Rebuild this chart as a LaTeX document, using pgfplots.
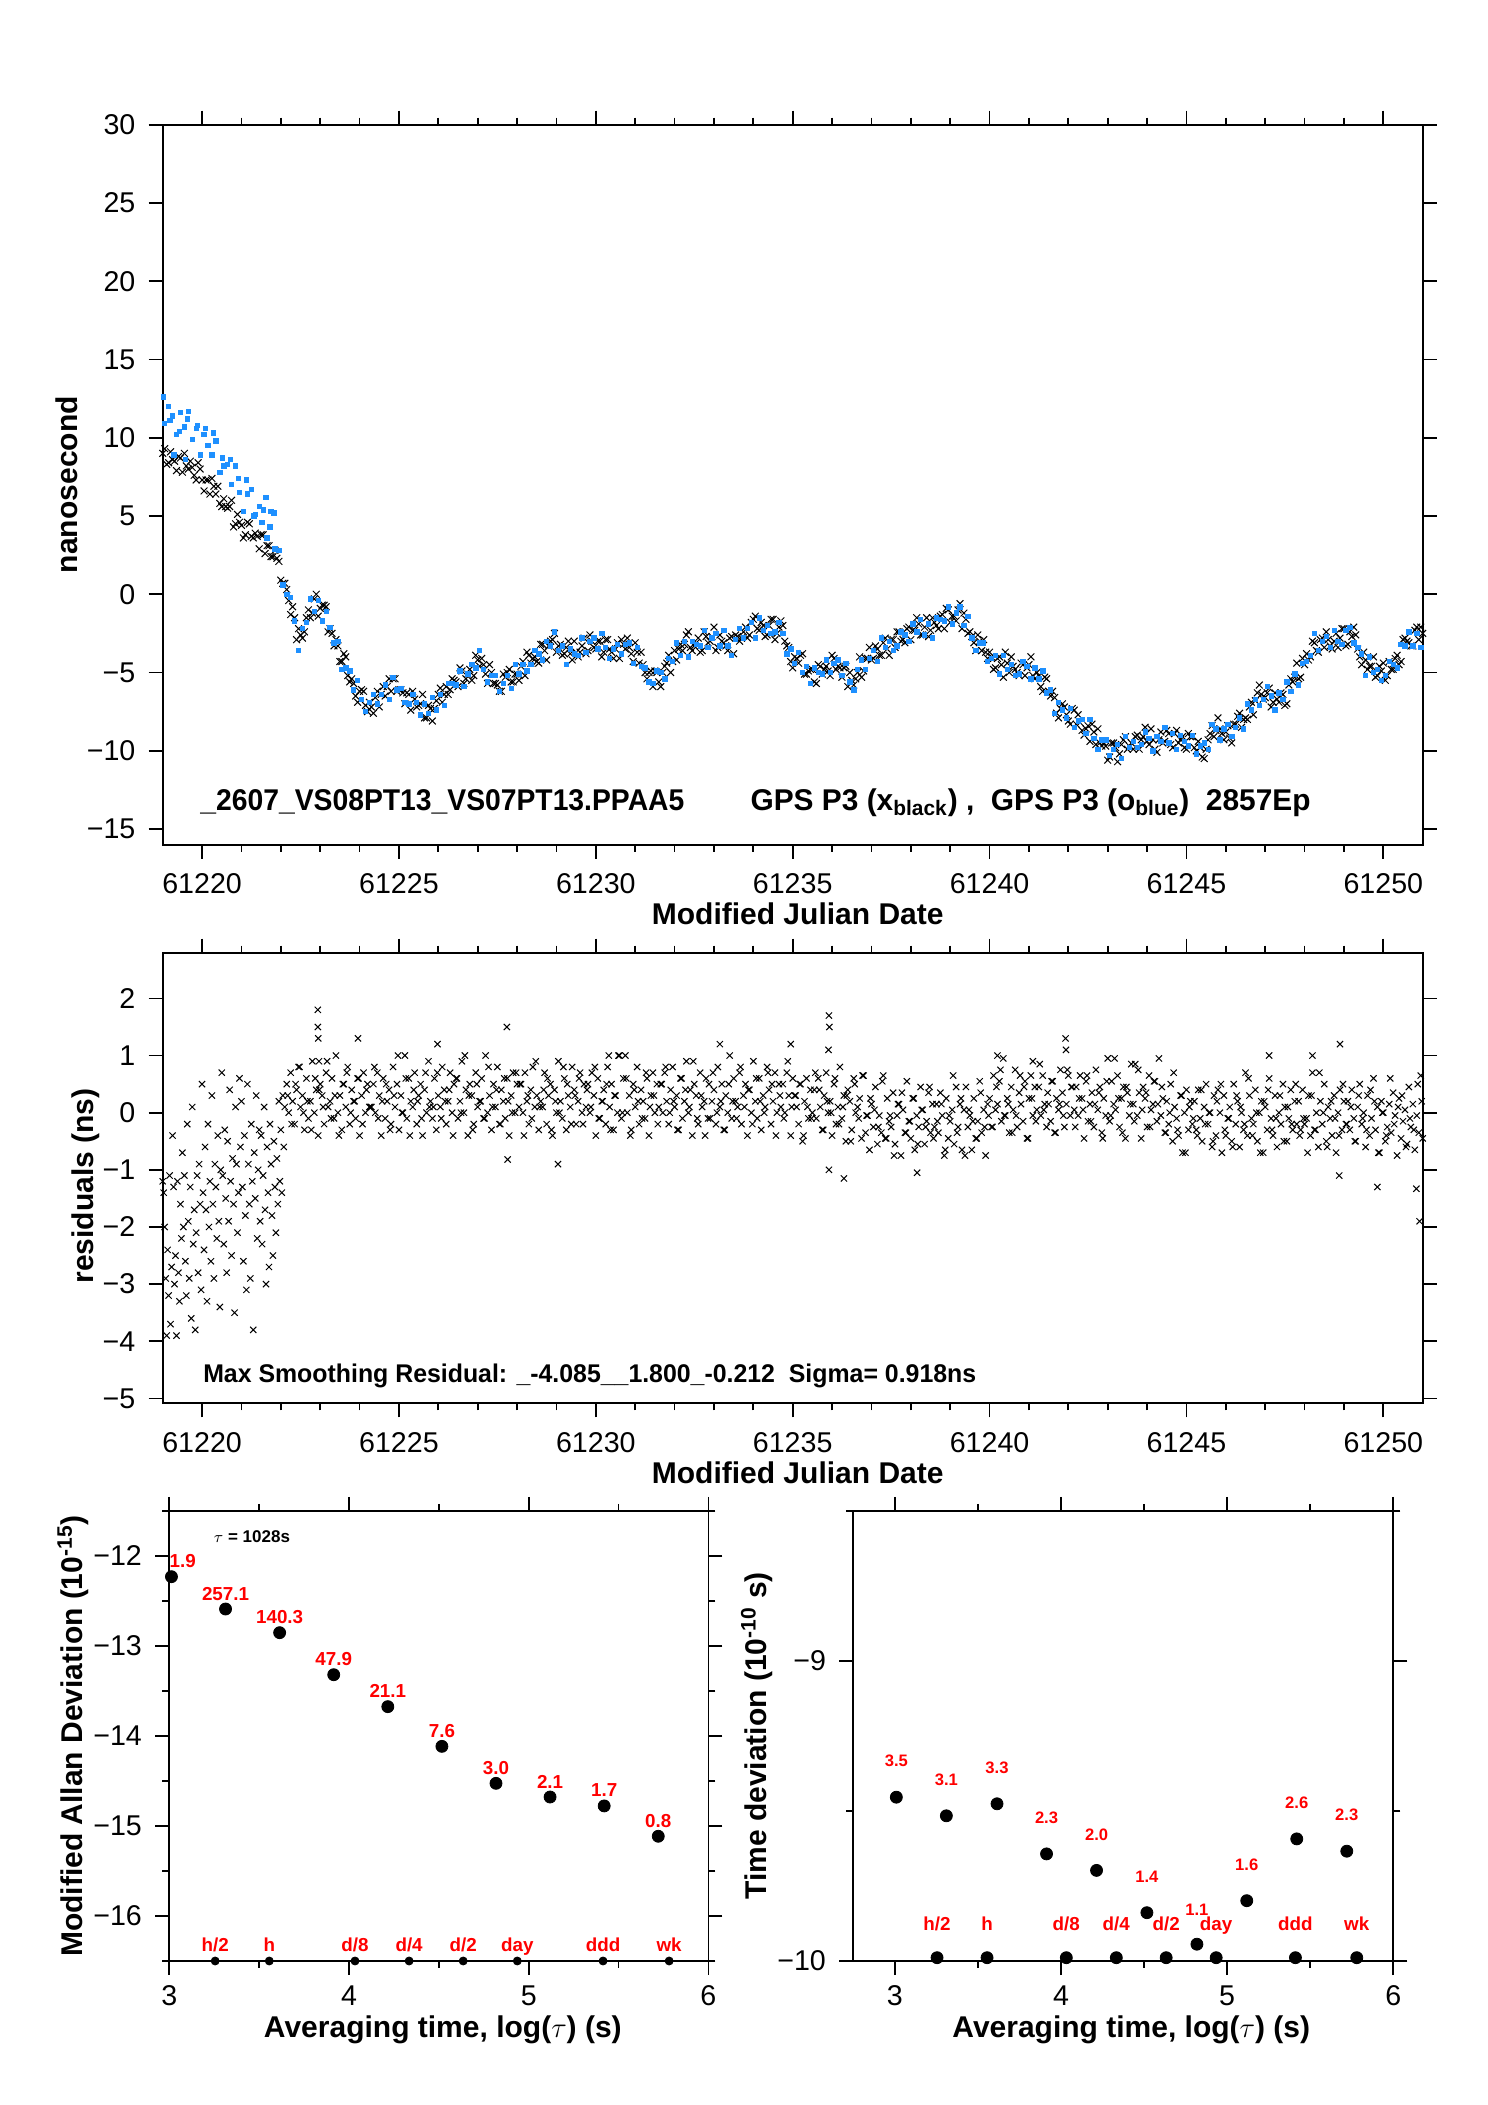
\documentclass[border=0pt]{standalone}
\usepackage{fontspec}
\setmainfont{Liberation Sans}
\usepackage{graphicx}
\usepackage{pgfplots}
\pgfplotsset{compat=1.18}
\definecolor{gblue}{RGB}{30,144,255}
\definecolor{lred}{RGB}{255,0,0}
\pgfplotsset{
  base/.style={
    scale only axis, anchor=south west,
    tick align=outside,
    axis line style={line width=0.9pt},
    every tick/.append style={line width=0.9pt, black},
    major tick length=7pt, minor tick length=3.5pt,
    scaled ticks=false,
    tick label style={font=\fontsize{14.3}{17}\selectfont, inner sep=0pt},
    label style={font=\bfseries\fontsize{15}{18}\selectfont},
    xticklabel style={anchor=base, yshift=-17.6pt},
    yticklabel style={anchor=east, xshift=-6.5pt},
  },
  xmark/.style={only marks, mark=x, mark size=2.4pt, black, mark options={line width=0.5pt}},
  bmark/.style={only marks, mark=square*, mark size=1.1pt, color=gblue},
}
\tikzset{
  vlab/.style={font=\bfseries\fontsize{9.4}{11}\selectfont, text=lred, anchor=base, inner sep=0pt},
  vlabs/.style={font=\bfseries\fontsize{8.3}{10}\selectfont, text=lred, anchor=base, inner sep=0pt},
}
\begin{document}
\begin{tikzpicture}
\path[use as bounding box] (0,0) rectangle (744pt,1052.5pt);
% ---------------- top panel ----------------
\begin{axis}[base, at={(81.35pt,630.15pt)}, width=630pt, height=360pt,
  xmin=61219, xmax=61251, ymin=-16, ymax=30,
  xtick={61220,61225,61230,61235,61240,61245,61250},
  xticklabels={61220,61225,61230,61235,61240,61245,61250},
  minor x tick num=4,
  ytick={-15,-10,-5,0,5,10,15,20,25,30},
  yticklabels={−15,−10,−5,0,5,10,15,20,25,30},
  xlabel={Modified Julian Date}, ylabel={nanosecond},
  xlabel style={at={([yshift=-39.8pt,xshift=2.5pt]axis description cs:0.5,0)}, anchor=base},
  ylabel style={at={([xshift=-47.85pt]axis description cs:0,0.5)}, anchor=center},
]
\addplot[xmark] coordinates {
(61219.0,9.0)(61219.1,8.3)(61219.2,9.1)(61219.3,8.5)(61219.4,8.8)(61219.5,7.8)(61219.6,8.2)(61219.7,8.5)(61219.8,7.6)(61219.9,8.4)
(61220.0,7.3)(61220.1,7.3)(61220.2,6.4)(61220.3,6.9)(61220.4,6.9)(61220.5,5.6)(61220.6,5.6)(61220.7,5.6)(61220.8,4.3)(61220.9,5.1)
(61221.0,4.4)(61221.1,3.8)(61221.2,4.5)(61221.3,3.6)(61221.4,3.7)(61221.5,3.8)(61221.6,2.6)(61221.7,3.1)(61221.8,2.4)(61221.9,2.3)
(61222.0,0.9)(61222.1,0.7)(61222.2,-0.4)(61222.3,-0.8)(61222.4,-2.9)(61222.5,-2.6)(61222.6,-2.4)(61222.7,-1.0)(61222.8,-1.2)(61222.9,0.0)
(61223.0,-0.9)(61223.1,-0.7)(61223.2,-2.4)(61223.3,-2.5)(61223.4,-2.9)(61223.5,-4.3)(61223.6,-3.8)(61223.7,-5.2)(61223.8,-5.4)(61223.9,-6.5)
(61224.0,-6.2)(61224.1,-6.2)(61224.2,-7.5)(61224.3,-7.2)(61224.4,-6.6)(61224.5,-7.2)(61224.6,-5.9)(61224.7,-5.9)(61224.8,-6.2)(61224.9,-5.4)
(61225.0,-6.1)(61225.1,-6.3)(61225.2,-6.3)(61225.3,-7.4)(61225.4,-6.7)(61225.5,-7.1)(61225.6,-6.4)(61225.7,-7.9)(61225.8,-7.3)(61225.9,-7.3)
(61226.0,-6.4)(61226.1,-6.9)(61226.2,-5.9)(61226.3,-6.1)(61226.4,-5.5)(61226.5,-5.9)(61226.6,-4.9)(61226.7,-5.4)(61226.8,-4.8)(61226.9,-5.2)
(61227.0,-4.2)(61227.1,-4.1)(61227.2,-5.1)(61227.3,-4.5)(61227.4,-5.7)(61227.5,-5.8)(61227.6,-6.2)(61227.7,-5.3)(61227.8,-4.8)(61227.9,-5.6)
(61228.0,-5.1)(61228.1,-4.6)(61228.2,-5.2)(61228.3,-3.9)(61228.4,-4.1)(61228.5,-4.3)(61228.6,-3.2)(61228.7,-3.6)(61228.8,-3.3)(61228.9,-2.9)
(61229.0,-3.7)(61229.1,-3.2)(61229.2,-3.8)(61229.3,-3.0)(61229.4,-4.2)(61229.5,-3.7)(61229.6,-3.7)(61229.7,-2.8)(61229.8,-3.6)(61229.9,-3.0)
(61230.0,-3.5)(61230.1,-3.0)(61230.2,-3.7)(61230.3,-2.9)(61230.4,-3.7)(61230.5,-3.5)(61230.6,-4.1)(61230.7,-3.2)(61230.8,-2.8)(61230.9,-3.8)
(61231.0,-3.1)(61231.1,-4.4)(61231.2,-4.5)(61231.3,-5.4)(61231.4,-4.9)(61231.5,-4.9)(61231.6,-5.6)(61231.7,-5.0)(61231.8,-4.4)(61231.9,-5.0)
(61232.0,-3.6)(61232.1,-3.5)(61232.2,-3.6)(61232.3,-2.6)(61232.4,-3.4)(61232.5,-3.3)(61232.6,-2.8)(61232.7,-3.6)(61232.8,-2.7)(61232.9,-3.0)
(61233.0,-2.1)(61233.1,-3.4)(61233.2,-3.0)(61233.3,-3.3)(61233.4,-2.8)(61233.5,-3.8)(61233.6,-2.7)(61233.7,-2.8)(61233.8,-2.1)(61233.9,-2.6)
(61234.0,-1.6)(61234.1,-2.2)(61234.2,-1.8)(61234.3,-2.7)(61234.4,-2.0)(61234.5,-1.6)(61234.6,-2.5)(61234.7,-1.7)(61234.8,-3.0)(61234.9,-3.4)
(61235.0,-4.7)(61235.1,-4.1)(61235.2,-3.9)(61235.3,-5.1)(61235.4,-4.9)(61235.5,-4.8)(61235.6,-5.7)(61235.7,-4.6)(61235.8,-4.8)(61235.9,-4.9)
(61236.0,-3.9)(61236.1,-4.8)(61236.2,-4.7)(61236.3,-4.7)(61236.4,-5.9)(61236.5,-5.5)(61236.6,-5.4)(61236.7,-4.0)(61236.8,-4.9)(61236.9,-4.1)
(61237.0,-4.2)(61237.1,-3.3)(61237.2,-3.9)(61237.3,-3.1)(61237.4,-3.5)(61237.5,-2.9)(61237.6,-3.4)(61237.7,-2.4)(61237.8,-2.9)(61237.9,-2.2)
(61238.0,-2.9)(61238.1,-2.3)(61238.2,-1.9)(61238.3,-2.6)(61238.4,-1.5)(61238.5,-2.3)(61238.6,-1.8)(61238.7,-2.2)(61238.8,-1.3)(61238.9,-0.9)
(61239.0,-1.8)(61239.1,-1.4)(61239.2,-1.0)(61239.3,-2.2)(61239.4,-1.6)(61239.5,-2.4)(61239.6,-3.1)(61239.7,-2.6)(61239.8,-3.6)(61239.9,-3.7)
(61240.0,-3.7)(61240.1,-4.8)(61240.2,-4.1)(61240.3,-4.5)(61240.4,-3.7)(61240.5,-5.0)(61240.6,-4.6)(61240.7,-5.0)(61240.8,-4.4)(61240.9,-5.2)
(61241.0,-4.5)(61241.1,-5.2)(61241.2,-5.0)(61241.3,-5.9)(61241.4,-5.3)(61241.5,-6.2)(61241.6,-6.2)(61241.7,-7.6)(61241.8,-7.3)(61241.9,-7.2)
(61242.0,-8.1)(61242.1,-7.3)(61242.2,-8.3)(61242.3,-8.2)(61242.4,-9.0)(61242.5,-8.4)(61242.6,-8.3)(61242.7,-9.6)(61242.8,-9.5)(61242.9,-9.5)
(61243.0,-10.6)(61243.1,-9.5)(61243.2,-9.8)(61243.3,-10.2)(61243.4,-9.3)(61243.5,-9.9)(61243.6,-9.5)(61243.7,-9.1)(61243.8,-9.9)(61243.9,-9.1)
(61244.0,-9.4)(61244.1,-8.6)(61244.2,-9.9)(61244.3,-9.3)(61244.4,-9.5)(61244.5,-8.7)(61244.6,-9.6)(61244.7,-8.9)(61244.8,-9.5)(61244.9,-9.1)
(61245.0,-9.9)(61245.1,-9.1)(61245.2,-9.8)(61245.3,-9.4)(61245.4,-10.4)(61245.5,-9.9)(61245.6,-8.9)(61245.7,-9.1)(61245.8,-7.9)(61245.9,-8.9)
(61246.0,-8.8)(61246.1,-9.2)(61246.2,-8.3)(61246.3,-7.8)(61246.4,-8.5)(61246.5,-7.9)(61246.6,-7.2)(61246.7,-7.7)(61246.8,-6.3)(61246.9,-6.4)
(61247.0,-6.6)(61247.1,-6.0)(61247.2,-6.9)(61247.3,-6.7)(61247.4,-6.3)(61247.5,-7.1)(61247.6,-5.8)(61247.7,-5.6)(61247.8,-4.4)(61247.9,-5.3)
(61248.0,-4.5)(61248.1,-4.2)(61248.2,-3.0)(61248.3,-3.6)(61248.4,-2.9)(61248.5,-3.4)(61248.6,-2.9)(61248.7,-3.5)(61248.8,-2.5)(61248.9,-2.8)
(61249.0,-2.2)(61249.1,-3.2)(61249.2,-2.7)(61249.3,-2.6)(61249.4,-4.0)(61249.5,-3.7)(61249.6,-4.8)(61249.7,-4.6)(61249.8,-5.3)(61249.9,-4.6)
(61250.0,-4.4)(61250.1,-5.2)(61250.2,-4.8)(61250.3,-4.1)(61250.4,-4.5)(61250.5,-2.9)(61250.6,-3.0)(61250.7,-3.3)(61250.8,-2.3)(61250.9,-2.9)
(61251.0,-2.5)
(61219.05,9.3)(61219.15,8.4)(61219.25,8.6)(61219.35,7.9)(61219.45,8.7)(61219.55,9.0)(61219.65,8.0)(61219.75,8.1)(61219.85,7.3)(61219.95,8.0)
(61220.05,6.6)(61220.15,7.3)(61220.25,7.4)(61220.35,6.4)(61220.45,5.8)(61220.55,6.1)(61220.65,5.5)(61220.75,6.0)(61220.85,4.5)(61220.95,4.6)
(61221.05,3.6)(61221.15,4.6)(61221.25,3.7)(61221.35,3.9)(61221.45,2.9)(61221.55,3.8)(61221.65,3.1)(61221.75,2.4)(61221.85,2.8)(61221.95,2.1)
(61222.05,0.7)(61222.15,0.3)(61222.25,-1.3)(61222.35,-1.5)(61222.45,-2.2)(61222.55,-2.8)(61222.65,-1.5)(61222.75,-1.5)(61222.85,-0.3)(61222.95,-1.4)
(61223.05,-0.7)(61223.15,-0.8)(61223.25,-2.2)(61223.35,-3.3)(61223.45,-3.3)(61223.55,-4.3)(61223.65,-4.0)(61223.75,-5.6)(61223.85,-5.7)(61223.95,-6.9)
(61224.05,-6.1)(61224.15,-7.1)(61224.25,-6.9)(61224.35,-7.6)(61224.45,-6.2)(61224.55,-6.4)(61224.65,-6.5)(61224.75,-5.4)(61224.85,-5.4)(61224.95,-6.2)
(61225.05,-6.1)(61225.15,-7.0)(61225.25,-6.4)(61225.35,-6.2)(61225.45,-7.2)(61225.55,-7.0)(61225.65,-7.9)(61225.75,-7.1)(61225.85,-8.1)(61225.95,-6.8)
(61226.05,-6.0)(61226.15,-6.4)(61226.25,-6.4)(61226.35,-5.4)(61226.45,-5.6)(61226.55,-4.7)(61226.65,-5.7)(61226.75,-5.1)(61226.85,-5.5)(61226.95,-3.9)
(61227.05,-4.6)(61227.15,-4.5)(61227.25,-5.7)(61227.35,-5.0)(61227.45,-5.7)(61227.55,-6.2)(61227.65,-5.1)(61227.75,-5.0)(61227.85,-5.6)(61227.95,-5.1)
(61228.05,-5.5)(61228.15,-4.3)(61228.25,-3.7)(61228.35,-4.4)(61228.45,-4.0)(61228.55,-4.4)(61228.65,-3.2)(61228.75,-4.2)(61228.85,-3.0)(61228.95,-2.5)
(61229.05,-3.3)(61229.15,-3.9)(61229.25,-3.4)(61229.35,-3.8)(61229.45,-3.0)(61229.55,-4.0)(61229.65,-3.3)(61229.75,-3.8)(61229.85,-2.6)(61229.95,-3.4)
(61230.05,-3.0)(61230.15,-4.0)(61230.25,-2.9)(61230.35,-3.5)(61230.45,-4.1)(61230.55,-3.1)(61230.65,-2.9)(61230.75,-3.5)(61230.85,-3.4)(61230.95,-4.3)
(61231.05,-3.7)(61231.15,-3.7)(61231.25,-5.0)(61231.35,-5.0)(61231.45,-5.9)(61231.55,-5.0)(61231.65,-5.9)(61231.75,-4.6)(61231.85,-3.9)(61231.95,-4.3)
(61232.05,-4.2)(61232.15,-3.2)(61232.25,-3.2)(61232.35,-2.4)(61232.45,-3.6)(61232.55,-3.1)(61232.65,-3.7)(61232.75,-2.4)(61232.85,-3.1)(61232.95,-2.7)
(61233.05,-3.6)(61233.15,-2.6)(61233.25,-3.1)(61233.35,-3.6)(61233.45,-2.7)(61233.55,-2.6)(61233.65,-3.0)(61233.75,-2.4)(61233.85,-2.8)(61233.95,-1.8)
(61234.05,-1.4)(61234.15,-2.3)(61234.25,-2.0)(61234.35,-2.6)(61234.45,-1.6)(61234.55,-2.9)(61234.65,-2.1)(61234.75,-2.0)(61234.85,-3.3)(61234.95,-4.3)
(61235.05,-4.0)(61235.15,-4.4)(61235.25,-3.8)(61235.35,-5.1)(61235.45,-4.8)(61235.55,-5.6)(61235.65,-4.5)(61235.75,-5.1)(61235.85,-4.6)(61235.95,-5.2)
(61236.05,-4.1)(61236.15,-4.6)(61236.25,-5.3)(61236.35,-4.6)(61236.45,-5.0)(61236.55,-5.8)(61236.65,-5.0)(61236.75,-5.3)(61236.85,-4.1)(61236.95,-3.4)
(61237.05,-4.1)(61237.15,-3.5)(61237.25,-3.9)(61237.35,-2.8)(61237.45,-3.9)(61237.55,-2.9)(61237.65,-2.4)(61237.75,-3.0)(61237.85,-3.1)(61237.95,-2.1)
(61238.05,-2.3)(61238.15,-1.5)(61238.25,-2.6)(61238.35,-2.1)(61238.45,-2.7)(61238.55,-1.5)(61238.65,-2.0)(61238.75,-1.4)(61238.85,-2.2)(61238.95,-1.0)
(61239.05,-1.4)(61239.15,-1.7)(61239.25,-0.6)(61239.35,-1.2)(61239.45,-2.5)(61239.55,-2.7)(61239.65,-3.6)(61239.75,-3.0)(61239.85,-2.9)(61239.95,-4.1)
(61240.05,-4.0)(61240.15,-4.7)(61240.25,-4.0)(61240.35,-5.3)(61240.45,-4.4)(61240.55,-4.0)(61240.65,-4.8)(61240.75,-5.2)(61240.85,-4.5)(61240.95,-4.7)
(61241.05,-4.0)(61241.15,-5.4)(61241.25,-5.2)(61241.35,-6.2)(61241.45,-5.4)(61241.55,-6.5)(61241.65,-6.6)(61241.75,-7.9)(61241.85,-7.0)(61241.95,-7.7)
(61242.05,-8.3)(61242.15,-7.4)(61242.25,-7.7)(61242.35,-8.7)(61242.45,-8.6)(61242.55,-9.4)(61242.65,-8.8)(61242.75,-8.6)(61242.85,-9.7)(61242.95,-9.7)
(61243.05,-10.4)(61243.15,-9.5)(61243.25,-10.7)(61243.35,-9.6)(61243.45,-9.1)(61243.55,-9.7)(61243.65,-9.9)(61243.75,-9.0)(61243.85,-9.3)(61243.95,-8.5)
(61244.05,-9.6)(61244.15,-9.3)(61244.25,-10.1)(61244.35,-8.8)(61244.45,-9.4)(61244.55,-8.9)(61244.65,-9.8)(61244.75,-8.7)(61244.85,-9.3)(61244.95,-9.8)
(61245.05,-8.9)(61245.15,-9.1)(61245.25,-10.0)(61245.35,-9.8)(61245.45,-10.5)(61245.55,-9.3)(61245.65,-8.4)(61245.75,-8.7)(61245.85,-8.6)(61245.95,-9.3)
(61246.05,-8.4)(61246.15,-9.5)(61246.25,-8.3)(61246.35,-7.6)(61246.45,-8.0)(61246.55,-8.0)(61246.65,-6.9)(61246.75,-6.8)(61246.85,-5.8)(61246.95,-6.7)
(61247.05,-6.3)(61247.15,-7.2)(61247.25,-6.3)(61247.35,-6.9)(61247.45,-6.4)(61247.55,-7.0)(61247.65,-5.4)(61247.75,-5.3)(61247.85,-5.4)(61247.95,-4.1)
(61248.05,-3.8)(61248.15,-4.0)(61248.25,-3.1)(61248.35,-3.7)(61248.45,-2.8)(61248.55,-2.4)(61248.65,-3.3)(61248.75,-3.0)(61248.85,-3.4)(61248.95,-2.2)
(61249.05,-3.3)(61249.15,-2.4)(61249.25,-2.1)(61249.35,-3.5)(61249.45,-4.5)(61249.55,-4.2)(61249.65,-4.6)(61249.75,-4.0)(61249.85,-5.2)(61249.95,-4.9)
(61250.05,-5.5)(61250.15,-4.3)(61250.25,-4.8)(61250.35,-3.9)(61250.45,-4.3)(61250.55,-2.8)(61250.65,-3.1)(61250.75,-3.3)(61250.85,-2.1)(61250.95,-2.1)
};
\addplot[bmark] coordinates {
(61219.05,10.9)(61219.15,12.0)(61219.25,11.4)(61219.35,10.2)(61219.45,11.6)(61219.55,10.7)(61219.65,11.7)(61219.75,9.9)(61219.85,10.6)(61219.95,8.9)
(61220.05,10.2)(61220.15,9.5)(61220.25,8.9)(61220.35,9.8)(61220.45,7.8)(61220.55,8.2)(61220.65,8.3)(61220.75,7.0)(61220.85,8.2)(61220.95,6.5)
(61221.05,5.3)(61221.15,6.4)(61221.25,6.7)(61221.35,5.1)(61221.45,5.6)(61221.55,5.4)(61221.65,3.6)(61221.75,5.3)(61221.85,2.9)(61221.95,2.8)
(61222.05,0.6)(61222.15,0.0)(61222.25,-0.2)(61222.35,-1.7)(61222.45,-3.6)(61222.55,-2.2)(61222.65,-1.8)(61222.75,-0.3)(61222.85,-1.1)(61222.95,-0.4)
(61223.05,-1.7)(61223.15,-1.1)(61223.25,-2.1)(61223.35,-3.1)(61223.45,-3.0)(61223.55,-4.8)(61223.65,-4.7)(61223.75,-4.9)(61223.85,-6.1)(61223.95,-5.5)
(61224.05,-6.7)(61224.15,-7.5)(61224.25,-6.9)(61224.35,-6.4)(61224.45,-7.0)(61224.55,-6.4)(61224.65,-5.8)(61224.75,-6.7)(61224.85,-5.3)(61224.95,-6.1)
(61225.05,-6.0)(61225.15,-6.9)(61225.25,-7.0)(61225.35,-6.4)(61225.45,-6.9)(61225.55,-7.7)(61225.65,-7.0)(61225.75,-7.6)(61225.85,-6.6)(61225.95,-7.4)
(61226.05,-6.4)(61226.15,-7.1)(61226.25,-5.7)(61226.35,-5.7)(61226.45,-5.8)(61226.55,-4.9)(61226.65,-5.9)(61226.75,-5.1)(61226.85,-4.5)(61226.95,-4.7)
(61227.05,-3.6)(61227.15,-4.8)(61227.25,-5.6)(61227.35,-5.2)(61227.45,-5.2)(61227.55,-6.2)(61227.65,-5.7)(61227.75,-5.2)(61227.85,-6.0)(61227.95,-4.5)
(61228.05,-5.1)(61228.15,-4.5)(61228.25,-4.9)(61228.35,-4.5)(61228.45,-3.6)(61228.55,-3.8)(61228.65,-4.2)(61228.75,-3.0)(61228.85,-3.3)(61228.95,-2.4)
(61229.05,-3.6)(61229.15,-3.3)(61229.25,-4.5)(61229.35,-3.5)(61229.45,-3.8)(61229.55,-3.9)(61229.65,-2.8)(61229.75,-3.7)(61229.85,-3.0)(61229.95,-2.8)
(61230.05,-3.5)(61230.15,-2.5)(61230.25,-3.4)(61230.35,-4.1)(61230.45,-3.5)(61230.55,-3.2)(61230.65,-3.8)(61230.75,-3.2)(61230.85,-3.1)(61230.95,-4.4)
(61231.05,-3.4)(61231.15,-4.6)(61231.25,-4.7)(61231.35,-5.6)(61231.45,-5.7)(61231.55,-4.9)(61231.65,-5.0)(61231.75,-5.4)(61231.85,-4.1)(61231.95,-4.3)
(61232.05,-3.1)(61232.15,-3.9)(61232.25,-3.0)(61232.35,-4.0)(61232.45,-3.0)(61232.55,-3.2)(61232.65,-3.3)(61232.75,-2.3)(61232.85,-3.4)(61232.95,-2.8)
(61233.05,-2.5)(61233.15,-3.3)(61233.25,-2.3)(61233.35,-3.3)(61233.45,-3.9)(61233.55,-2.9)(61233.65,-2.2)(61233.75,-2.8)(61233.85,-2.2)(61233.95,-1.8)
(61234.05,-2.8)(61234.15,-1.5)(61234.25,-2.3)(61234.35,-2.0)(61234.45,-2.5)(61234.55,-2.4)(61234.65,-1.8)(61234.75,-2.5)(61234.85,-3.8)(61234.95,-3.5)
(61235.05,-4.4)(61235.15,-3.7)(61235.25,-5.0)(61235.35,-4.6)(61235.45,-5.7)(61235.55,-4.7)(61235.65,-5.0)(61235.75,-5.1)(61235.85,-4.2)(61235.95,-5.0)
(61236.05,-4.4)(61236.15,-4.2)(61236.25,-5.2)(61236.35,-4.4)(61236.45,-5.6)(61236.55,-6.1)(61236.65,-4.8)(61236.75,-4.2)(61236.85,-4.8)(61236.95,-4.1)
(61237.05,-3.6)(61237.15,-4.3)(61237.25,-2.8)(61237.35,-3.4)(61237.45,-3.0)(61237.55,-3.6)(61237.65,-3.3)(61237.75,-2.4)(61237.85,-2.6)(61237.95,-3.0)
(61238.05,-1.9)(61238.15,-2.4)(61238.25,-1.6)(61238.35,-2.6)(61238.45,-1.9)(61238.55,-2.8)(61238.65,-1.5)(61238.75,-1.6)(61238.85,-1.7)(61238.95,-0.8)
(61239.05,-1.9)(61239.15,-1.2)(61239.25,-0.8)(61239.35,-2.0)(61239.45,-1.4)(61239.55,-2.8)(61239.65,-3.6)(61239.75,-3.1)(61239.85,-3.1)(61239.95,-4.3)
(61240.05,-4.1)(61240.15,-3.9)(61240.25,-5.1)(61240.35,-3.9)(61240.45,-4.8)(61240.55,-4.5)(61240.65,-5.2)(61240.75,-5.1)(61240.85,-4.3)(61240.95,-4.6)
(61241.05,-5.4)(61241.15,-4.7)(61241.25,-5.4)(61241.35,-4.9)(61241.45,-6.3)(61241.55,-6.1)(61241.65,-7.6)(61241.75,-6.9)(61241.85,-7.4)(61241.95,-7.9)
(61242.05,-7.3)(61242.15,-8.5)(61242.25,-8.1)(61242.35,-8.0)(61242.45,-8.9)(61242.55,-8.0)(61242.65,-9.2)(61242.75,-9.9)(61242.85,-9.3)(61242.95,-9.3)
(61243.05,-10.3)(61243.15,-9.9)(61243.25,-9.6)(61243.35,-10.5)(61243.45,-9.1)(61243.55,-9.8)(61243.65,-9.4)(61243.75,-9.8)(61243.85,-9.6)(61243.95,-8.8)
(61244.05,-9.2)(61244.15,-10.0)(61244.25,-9.1)(61244.35,-9.4)(61244.45,-8.5)(61244.55,-9.5)(61244.65,-8.9)(61244.75,-9.9)(61244.85,-9.0)(61244.95,-9.4)
(61245.05,-9.7)(61245.15,-9.0)(61245.25,-10.2)(61245.35,-9.7)(61245.45,-9.5)(61245.55,-9.9)(61245.65,-8.3)(61245.75,-8.6)(61245.85,-9.3)(61245.95,-8.6)
(61246.05,-8.3)(61246.15,-9.1)(61246.25,-8.5)(61246.35,-7.9)(61246.45,-8.6)(61246.55,-7.0)(61246.65,-7.4)(61246.75,-6.7)(61246.85,-7.1)(61246.95,-6.7)
(61247.05,-5.9)(61247.15,-6.5)(61247.25,-7.4)(61247.35,-6.3)(61247.45,-6.7)(61247.55,-5.6)(61247.65,-6.2)(61247.75,-5.1)(61247.85,-5.8)(61247.95,-4.4)
(61248.05,-4.3)(61248.15,-3.9)(61248.25,-2.5)(61248.35,-3.6)(61248.45,-3.0)(61248.55,-2.7)(61248.65,-3.4)(61248.75,-2.3)(61248.85,-3.0)(61248.95,-3.2)
(61249.05,-2.3)(61249.15,-2.1)(61249.25,-3.1)(61249.35,-3.4)(61249.45,-3.8)(61249.55,-5.2)(61249.65,-4.0)(61249.75,-5.0)(61249.85,-4.8)(61249.95,-5.5)
(61250.05,-5.2)(61250.15,-4.3)(61250.25,-4.5)(61250.35,-4.7)(61250.45,-3.2)(61250.55,-3.3)(61250.65,-2.4)(61250.75,-3.3)(61250.85,-2.5)(61250.95,-3.4)
(61219.02,12.6)(61219.18,11.1)(61219.42,10.4)(61219.62,11.2)(61219.88,10.8)(61220.08,10.6)(61220.28,10.3)(61220.52,8.7)(61220.72,8.6)(61220.92,7.4)
(61221.12,7.3)(61221.32,5.0)(61221.52,4.6)(61221.62,6.2)(61221.72,4.3)(61221.82,5.2)(61219.28,8.9)(61219.58,8.6)
};
\node[anchor=base west, inner sep=0pt, font=\bfseries\fontsize{15}{18}\selectfont] at (axis cs:61219.947,-13.82) {\resizebox{242pt}{\height}{\_2607\_VS08PT13\_VS07PT13.PPAA5}};
\node[anchor=base west, inner sep=0pt, font=\bfseries\fontsize{15}{18}\selectfont] at (axis cs:61233.92,-13.82) {\resizebox{280pt}{\height}{GPS P3 (x\textsubscript{black}) ,\ \ GPS P3 (o\textsubscript{blue})\ \ 2857Ep}};
\end{axis}
% ---------------- residual panel ----------------
\begin{axis}[base, at={(81.35pt,350.85pt)}, width=630pt, height=225.3pt,
  xmin=61219, xmax=61251, ymin=-5.085, ymax=2.8,
  xtick={61220,61225,61230,61235,61240,61245,61250},
  xticklabels={61220,61225,61230,61235,61240,61245,61250},
  minor x tick num=4,
  ytick={-5,-4,-3,-2,-1,0,1,2},
  yticklabels={−5,−4,−3,−2,−1,0,1,2},
  xlabel={Modified Julian Date}, ylabel={residuals (ns)},
  xlabel style={at={([yshift=-40pt,xshift=2.5pt]axis description cs:0.5,0)}, anchor=base},
  ylabel style={at={([xshift=-38.4pt,yshift=-4pt]axis description cs:0,0.5)}, anchor=center},
]
\addplot[xmark, mark size=2.2pt] coordinates {
(61219.000,-1.2)(61219.025,-1.4)(61219.050,-2.0)(61219.075,-2.9)(61219.100,-3.9)(61219.125,-2.4)(61219.150,-3.2)(61219.175,-1.1)(61219.200,-3.7)(61219.225,-2.7)
(61219.250,-0.4)(61219.275,-1.3)(61219.300,-3.0)(61219.325,-2.5)(61219.350,-3.9)(61219.375,-1.2)(61219.400,-2.8)(61219.425,-3.3)(61219.450,-1.6)(61219.475,-2.2)
(61219.500,-0.7)(61219.525,-2.0)(61219.550,-1.1)(61219.575,-2.6)(61219.600,-3.2)(61219.625,-0.2)(61219.650,-1.9)(61219.675,-2.9)(61219.700,-1.3)(61219.725,-3.6)
(61219.750,0.1)(61219.775,-2.3)(61219.800,-1.7)(61219.825,-3.8)(61219.850,-2.1)(61219.875,-1.1)(61219.900,-2.8)(61219.925,-0.9)(61219.950,-1.6)(61219.975,-3.1)
(61220.000,0.5)(61220.025,-1.4)(61220.050,-2.4)(61220.075,-0.6)(61220.100,-1.7)(61220.125,-3.3)(61220.150,-0.2)(61220.175,-2.0)(61220.200,-1.2)(61220.225,-2.6)
(61220.250,0.3)(61220.275,-1.6)(61220.300,-2.9)(61220.325,-0.9)(61220.350,-1.3)(61220.375,-2.2)(61220.400,-0.4)(61220.425,-1.9)(61220.450,-3.4)(61220.475,-1.0)
(61220.500,0.7)(61220.525,-1.1)(61220.550,-2.3)(61220.575,-0.3)(61220.600,-1.5)(61220.625,-2.8)(61220.650,-0.5)(61220.675,-1.9)(61220.700,0.4)(61220.725,-1.2)
(61220.750,-2.5)(61220.775,-0.8)(61220.800,-1.6)(61220.825,-3.5)(61220.850,0.1)(61220.875,-0.9)(61220.900,-2.1)(61220.925,-1.4)(61220.950,0.6)(61220.975,-0.6)
(61221.000,0.2)(61221.025,-1.3)(61221.050,-2.6)(61221.075,-0.4)(61221.100,-1.8)(61221.125,-3.1)(61221.150,0.5)(61221.175,-0.9)(61221.200,-1.6)(61221.225,-2.9)
(61221.250,-0.2)(61221.275,-1.2)(61221.300,-3.8)(61221.325,-0.7)(61221.350,-1.5)(61221.375,0.3)(61221.400,-2.2)(61221.425,-1.0)(61221.450,-0.3)(61221.475,-1.9)
(61221.500,-0.4)(61221.525,-2.3)(61221.550,-1.1)(61221.575,0.1)(61221.600,-1.7)(61221.625,-3.0)(61221.650,-0.6)(61221.675,-1.4)(61221.700,-2.7)(61221.725,-0.2)
(61221.750,-0.9)(61221.775,-1.8)(61221.800,-2.5)(61221.825,-0.5)(61221.850,-1.3)(61221.875,-2.1)(61221.900,-0.8)(61221.925,-1.6)(61221.950,0.2)(61221.975,-1.2)
(61222.000,-0.3)(61222.025,-1.4)(61222.050,0.3)(61222.075,-0.6)(61222.100,0.1)
(61222.15,0.5)(61222.20,0.0)(61222.25,0.7)(61222.30,0.2)(61222.35,-0.2)(61222.40,0.4)(61222.45,0.8)(61222.50,0.1)(61222.55,0.3)(61222.60,-0.3)
(61222.65,0.6)(61222.70,-0.1)(61222.75,0.2)(61222.80,0.9)(61222.85,0.0)(61222.90,0.4)(61222.95,-0.4)(61223.00,0.5)(61223.05,0.3)(61223.10,-0.2)
(61223.15,0.7)(61223.20,0.1)(61223.25,0.2)(61223.30,0.6)(61223.35,-0.1)(61223.40,1.0)(61223.45,0.0)(61223.50,0.3)(61223.55,-0.3)(61223.60,0.5)
(61223.65,0.1)(61223.70,0.8)(61223.75,-0.2)(61223.80,0.4)(61223.85,0.2)(61223.90,-0.1)(61223.95,0.6)(61224.00,-0.4)(61224.05,0.3)(61224.10,0.7)
(61224.15,0.0)(61224.20,0.5)(61224.25,0.1)
(61224.30,0.1)(61224.35,0.5)(61224.40,0.0)(61224.45,0.7)(61224.50,0.3)(61224.55,-0.4)(61224.60,0.6)(61224.65,-0.1)(61224.70,0.2)(61224.75,0.4)
(61224.80,-0.2)(61224.85,0.8)(61224.90,0.1)(61224.95,0.5)(61225.00,-0.3)(61225.05,0.3)(61225.10,0.0)(61225.15,1.0)(61225.20,-0.1)(61225.25,0.6)
(61225.30,0.2)(61225.35,0.1)(61225.40,0.7)(61225.45,-0.2)(61225.50,0.3)(61225.55,0.5)(61225.60,-0.4)(61225.65,0.4)(61225.70,0.0)(61225.75,0.9)
(61225.80,0.2)(61225.85,-0.1)(61225.90,0.6)(61225.95,-0.3)(61226.00,0.3)(61226.05,0.1)(61226.10,0.8)(61226.15,0.4)(61226.20,-0.2)(61226.25,0.2)
(61226.30,0.7)(61226.35,0.0)(61226.40,0.5)
(61226.45,0.6)(61226.50,-0.1)(61226.55,0.2)(61226.60,0.9)(61226.65,0.0)(61226.70,0.4)(61226.75,-0.4)(61226.80,0.5)(61226.85,0.3)(61226.90,-0.2)
(61226.95,0.7)(61227.00,0.1)(61227.05,0.2)(61227.10,0.6)(61227.15,-0.1)(61227.20,1.0)(61227.25,0.0)(61227.30,0.3)(61227.35,-0.3)(61227.40,0.5)
(61227.45,0.1)(61227.50,0.8)(61227.55,-0.2)(61227.60,0.4)(61227.65,0.2)(61227.70,-0.1)(61227.75,0.6)(61227.80,-0.4)(61227.85,0.3)(61227.90,0.7)
(61227.95,0.0)(61228.00,0.5)(61228.05,0.1)(61228.10,0.5)(61228.15,0.0)(61228.20,0.7)(61228.25,0.2)(61228.30,-0.2)(61228.35,0.4)(61228.40,0.8)
(61228.45,0.1)(61228.50,0.3)(61228.55,-0.3)
(61228.60,0.2)(61228.65,0.1)(61228.70,0.7)(61228.75,-0.2)(61228.80,0.3)(61228.85,0.5)(61228.90,-0.4)(61228.95,0.4)(61229.00,0.0)(61229.05,0.9)
(61229.10,0.2)(61229.15,-0.1)(61229.20,0.6)(61229.25,-0.3)(61229.30,0.3)(61229.35,0.1)(61229.40,0.8)(61229.45,0.4)(61229.50,-0.2)(61229.55,0.2)
(61229.60,0.7)(61229.65,0.0)(61229.70,0.5)(61229.75,0.1)(61229.80,0.5)(61229.85,0.0)(61229.90,0.7)(61229.95,0.3)(61230.00,-0.4)(61230.05,0.6)
(61230.10,-0.1)(61230.15,0.2)(61230.20,0.4)(61230.25,-0.2)(61230.30,0.8)(61230.35,0.1)(61230.40,0.5)(61230.45,-0.3)(61230.50,0.3)(61230.55,0.0)
(61230.60,1.0)(61230.65,-0.1)(61230.70,0.6)
(61230.75,1.0)(61230.80,0.0)(61230.85,0.3)(61230.90,-0.3)(61230.95,0.5)(61231.00,0.1)(61231.05,0.8)(61231.10,-0.2)(61231.15,0.4)(61231.20,0.2)
(61231.25,-0.1)(61231.30,0.6)(61231.35,-0.4)(61231.40,0.3)(61231.45,0.7)(61231.50,0.0)(61231.55,0.5)(61231.60,0.1)(61231.65,0.5)(61231.70,0.0)
(61231.75,0.7)(61231.80,0.2)(61231.85,-0.2)(61231.90,0.4)(61231.95,0.8)(61232.00,0.1)(61232.05,0.3)(61232.10,-0.3)(61232.15,0.6)(61232.20,-0.1)
(61232.25,0.2)(61232.30,0.9)(61232.35,0.0)(61232.40,0.4)(61232.45,-0.4)(61232.50,0.5)(61232.55,0.3)(61232.60,-0.2)(61232.65,0.7)(61232.70,0.1)
(61232.75,0.2)(61232.80,0.6)(61232.85,-0.1)
(61232.90,-0.1)(61232.95,0.2)(61233.00,0.4)(61233.05,-0.2)(61233.10,0.8)(61233.15,0.1)(61233.20,0.5)(61233.25,-0.3)(61233.30,0.3)(61233.35,0.0)
(61233.40,1.0)(61233.45,-0.1)(61233.50,0.6)(61233.55,0.2)(61233.60,0.1)(61233.65,0.7)(61233.70,-0.2)(61233.75,0.3)(61233.80,0.5)(61233.85,-0.4)
(61233.90,0.4)(61233.95,0.0)(61234.00,0.9)(61234.05,0.2)(61234.10,-0.1)(61234.15,0.6)(61234.20,-0.3)(61234.25,0.3)(61234.30,0.1)(61234.35,0.8)
(61234.40,0.4)(61234.45,-0.2)(61234.50,0.2)(61234.55,0.7)(61234.60,0.0)(61234.65,0.5)(61234.70,0.1)(61234.75,0.5)(61234.80,0.0)(61234.85,0.7)
(61234.90,0.3)(61234.95,-0.4)(61235.00,0.6)
(61235.05,0.3)(61235.10,0.1)(61235.15,-0.2)(61235.20,0.5)(61235.25,-0.5)(61235.30,0.2)(61235.35,0.6)(61235.40,-0.1)(61235.45,0.4)(61235.50,0.0)
(61235.55,0.4)(61235.60,-0.1)(61235.65,0.6)(61235.70,0.1)(61235.75,-0.3)(61235.80,0.3)(61235.85,0.7)(61235.90,0.0)(61235.95,0.2)(61236.00,-0.4)
(61236.05,0.5)(61236.10,-0.2)(61236.15,0.1)(61236.20,0.8)(61236.25,-0.1)(61236.30,0.3)(61236.35,-0.5)(61236.40,0.4)(61236.45,0.2)(61236.50,-0.3)
(61236.55,0.6)(61236.60,0.0)(61236.65,0.1)(61236.70,0.25)(61236.75,-0.45)(61236.80,0.65)(61236.85,-0.35)(61236.90,-0.05)(61236.95,-0.65)(61237.00,0.15)
(61237.05,-0.25)(61237.10,0.45)(61237.15,-0.55)
(61237.20,-0.05)(61237.25,-0.35)(61237.30,0.65)(61237.35,-0.45)(61237.40,0.25)(61237.45,-0.15)(61237.50,-0.25)(61237.55,0.35)(61237.60,-0.55)(61237.65,-0.05)
(61237.70,0.15)(61237.75,-0.75)(61237.80,0.05)(61237.85,-0.35)(61237.90,0.55)(61237.95,-0.15)(61238.00,-0.45)(61238.05,0.25)(61238.10,-0.65)(61238.15,-0.05)
(61238.20,-0.25)(61238.25,0.45)(61238.30,0.05)(61238.35,-0.55)(61238.40,-0.15)(61238.45,0.35)(61238.50,-0.35)(61238.55,0.15)(61238.60,-0.25)(61238.65,0.15)
(61238.70,-0.35)(61238.75,0.35)(61238.80,-0.05)(61238.85,-0.75)(61238.90,0.25)(61238.95,-0.45)(61239.00,-0.15)(61239.05,0.05)(61239.10,-0.55)(61239.15,0.45)
(61239.20,-0.25)(61239.25,0.15)(61239.30,-0.65)
(61239.35,0.05)(61239.40,0.45)(61239.45,-0.25)(61239.50,-0.05)(61239.55,-0.65)(61239.60,0.25)(61239.65,-0.45)(61239.70,-0.15)(61239.75,0.55)(61239.80,-0.35)
(61239.85,0.05)(61239.90,-0.75)(61239.95,0.15)(61240.00,0.25)(61240.05,-0.25)(61240.10,0.65)(61240.15,0.05)(61240.20,0.15)(61240.25,0.55)(61240.30,-0.15)
(61240.35,0.95)(61240.40,-0.05)(61240.45,0.25)(61240.50,-0.35)(61240.55,0.45)(61240.60,0.05)(61240.65,0.75)(61240.70,-0.25)(61240.75,0.35)(61240.80,0.15)
(61240.85,-0.15)(61240.90,0.55)(61240.95,-0.45)(61241.00,0.25)(61241.05,0.65)(61241.10,-0.05)(61241.15,0.45)(61241.20,0.05)(61241.25,0.45)(61241.30,-0.05)
(61241.35,0.65)(61241.40,0.15)(61241.45,-0.25)
(61241.50,0.15)(61241.55,-0.15)(61241.60,0.55)(61241.65,-0.35)(61241.70,0.25)(61241.75,0.05)(61241.80,0.75)(61241.85,0.35)(61241.90,-0.25)(61241.95,0.15)
(61242.00,0.65)(61242.05,-0.05)(61242.10,0.45)(61242.15,0.05)(61242.20,0.45)(61242.25,-0.05)(61242.30,0.65)(61242.35,0.25)(61242.40,-0.45)(61242.45,0.55)
(61242.50,-0.15)(61242.55,0.15)(61242.60,0.35)(61242.65,-0.25)(61242.70,0.75)(61242.75,0.05)(61242.80,0.45)(61242.85,-0.35)(61242.90,0.25)(61242.95,-0.05)
(61243.00,0.95)(61243.05,-0.15)(61243.10,0.55)(61243.15,0.15)(61243.20,0.05)(61243.25,0.65)(61243.30,-0.25)(61243.35,0.25)(61243.40,0.45)(61243.45,-0.45)
(61243.50,0.35)(61243.55,-0.05)(61243.60,0.85)
(61243.65,0.15)(61243.70,0.85)(61243.75,-0.05)(61243.80,0.35)(61243.85,-0.45)(61243.90,0.45)(61243.95,0.25)(61244.00,-0.25)(61244.05,0.65)(61244.10,0.05)
(61244.15,0.15)(61244.20,0.55)(61244.25,-0.15)(61244.30,0.95)(61244.35,-0.05)(61244.40,0.25)(61244.45,-0.35)
(61244.50,0.2)(61244.55,-0.2)(61244.60,0.5)(61244.65,-0.5)(61244.70,0.1)(61244.75,-0.1)(61244.80,-0.4)(61244.85,0.3)(61244.90,-0.7)(61244.95,0.0)
(61245.00,0.4)(61245.05,-0.3)(61245.10,0.2)(61245.15,-0.2)(61245.20,0.2)(61245.25,-0.3)(61245.30,0.4)(61245.35,-0.1)(61245.40,-0.5)(61245.45,0.1)
(61245.50,0.5)(61245.55,-0.2)(61245.60,0.0)(61245.65,-0.6)(61245.70,0.3)(61245.75,-0.4)
(61245.80,0.4)(61245.85,0.0)(61245.90,-0.7)(61245.95,0.3)(61246.00,-0.4)(61246.05,-0.1)(61246.10,0.1)(61246.15,-0.5)(61246.20,0.5)(61246.25,-0.2)
(61246.30,0.2)(61246.35,-0.6)(61246.40,0.0)(61246.45,-0.3)(61246.50,0.7)(61246.55,-0.4)(61246.60,0.3)(61246.65,-0.1)(61246.70,-0.2)(61246.75,0.4)
(61246.80,-0.5)(61246.85,0.0)(61246.90,0.2)(61246.95,-0.7)(61247.00,0.1)(61247.05,-0.3)(61247.10,0.6)(61247.15,-0.1)(61247.20,-0.4)(61247.25,0.3)
(61247.30,-0.6)(61247.35,0.0)(61247.40,-0.2)(61247.45,0.5)(61247.50,0.1)(61247.55,-0.5)(61247.60,-0.1)(61247.65,0.4)(61247.70,-0.3)(61247.75,0.2)
(61247.80,-0.2)(61247.85,0.2)(61247.90,-0.3)
(61247.95,0.4)(61248.00,-0.2)(61248.05,-0.1)(61248.10,0.3)(61248.15,-0.4)(61248.20,0.7)(61248.25,-0.3)(61248.30,0.0)(61248.35,-0.6)(61248.40,0.2)
(61248.45,-0.2)(61248.50,0.5)(61248.55,-0.5)(61248.60,0.1)(61248.65,-0.1)(61248.70,-0.4)(61248.75,0.3)(61248.80,-0.7)(61248.85,0.0)(61248.90,0.4)
(61248.95,-0.3)(61249.00,0.2)(61249.05,-0.2)(61249.10,0.2)(61249.15,-0.3)(61249.20,0.4)(61249.25,-0.1)(61249.30,-0.5)(61249.35,0.1)(61249.40,0.5)
(61249.45,-0.2)(61249.50,0.0)(61249.55,-0.6)(61249.60,0.3)(61249.65,-0.4)(61249.70,-0.1)(61249.75,0.6)(61249.80,-0.3)(61249.85,0.1)(61249.90,-0.7)
(61249.95,0.2)(61250.00,0.0)(61250.05,-0.5)
(61250.10,-0.25)(61250.15,0.15)(61250.20,-0.35)(61250.25,0.35)(61250.30,-0.05)(61250.35,-0.75)(61250.40,0.25)(61250.45,-0.45)(61250.50,-0.15)(61250.55,0.05)
(61250.60,-0.55)(61250.65,0.45)(61250.70,-0.25)(61250.75,0.15)(61250.80,-0.65)(61250.85,-0.05)(61250.90,-0.35)(61250.95,0.65)(61251.00,-0.45)
(61222.94,1.8)(61222.94,1.5)(61222.95,1.3)(61222.97,0.9)(61223.96,1.3)(61225.98,1.2)(61227.74,1.5)(61227.76,-0.82)(61229.04,-0.9)(61230.33,1.0)
(61233.15,1.2)(61234.95,1.2)(61235.92,1.7)(61235.93,1.5)(61235.91,1.1)(61235.92,-1.0)(61236.3,-1.15)(61238.16,-1.05)(61240.2,1.0)(61241.1,0.9)
(61241.93,1.3)(61241.94,1.1)(61247.1,1.0)(61248.2,1.0)(61248.9,1.2)(61248.88,-1.1)(61249.85,-1.3)(61250.84,-1.33)(61250.92,-1.9)
(61222.175,0.3)(61222.275,-0.2)(61222.375,0.5)(61222.475,0.8)(61222.575,0.0)(61222.675,0.2)(61222.775,-0.3)(61222.875,0.6)(61222.975,0.4)
(61223.075,0.1)(61223.175,0.9)(61223.275,-0.1)(61223.375,0.3)(61223.475,-0.4)(61223.575,0.5)(61223.675,0.7)(61223.775,0.0)(61223.875,0.2)(61223.975,0.6)
(61224.075,-0.2)(61224.175,0.4)(61224.275,0.1)(61224.375,0.8)(61224.475,-0.1)(61224.575,0.2)(61224.675,0.5)(61224.775,-0.3)(61224.875,0.3)(61224.975,1.0)
(61225.075,0.0)(61225.175,0.6)(61225.275,-0.4)(61225.375,0.4)(61225.475,0.2)(61225.575,-0.1)(61225.675,0.7)(61225.775,0.1)
(61225.875,0.1)(61225.975,0.7)(61226.075,-0.1)(61226.175,0.2)(61226.275,0.4)(61226.375,-0.4)(61226.475,0.6)(61226.575,0.0)(61226.675,1.0)(61226.775,0.3)
(61226.875,-0.3)(61226.975,0.5)(61227.075,0.2)(61227.175,-0.1)(61227.275,0.8)(61227.375,0.1)(61227.475,0.4)(61227.575,-0.2)(61227.675,0.6)(61227.775,0.2)
(61227.875,0.0)(61227.975,0.7)(61228.075,0.5)(61228.175,-0.4)(61228.275,0.3)(61228.375,-0.1)(61228.475,0.9)(61228.575,0.1)(61228.675,0.4)(61228.775,0.6)
(61228.875,-0.3)(61228.975,0.2)(61229.075,0.0)(61229.175,0.8)(61229.275,0.5)(61229.375,-0.2)(61229.475,0.3)
(61229.575,0.6)(61229.675,-0.2)(61229.775,0.4)(61229.875,0.1)(61229.975,0.8)(61230.075,-0.1)(61230.175,0.2)(61230.275,0.5)(61230.375,-0.3)(61230.475,0.3)
(61230.575,1.0)(61230.675,0.0)(61230.775,0.6)(61230.875,-0.4)(61230.975,0.4)(61231.075,0.2)(61231.175,-0.1)(61231.275,0.7)(61231.375,0.1)(61231.475,0.3)
(61231.575,-0.2)(61231.675,0.5)(61231.775,0.8)(61231.875,0.0)(61231.975,0.2)(61232.075,-0.3)(61232.175,0.6)(61232.275,0.4)(61232.375,0.1)(61232.475,0.9)
(61232.575,-0.1)(61232.675,0.3)(61232.775,-0.4)(61232.875,0.5)(61232.975,0.7)(61233.075,0.0)(61233.175,0.2)
(61233.275,-0.3)(61233.375,0.5)(61233.475,0.2)(61233.575,-0.1)(61233.675,0.8)(61233.775,0.1)(61233.875,0.4)(61233.975,-0.2)(61234.075,0.6)(61234.175,0.2)
(61234.275,0.0)(61234.375,0.7)(61234.475,0.5)(61234.575,-0.4)(61234.675,0.3)(61234.775,-0.1)(61234.875,0.9)(61234.975,0.1)(61235.075,0.3)(61235.175,0.5)
(61235.275,-0.4)(61235.375,0.1)(61235.475,-0.1)(61235.575,0.7)(61235.675,0.4)(61235.775,-0.3)(61235.875,0.2)(61235.975,0.0)(61236.075,0.6)(61236.175,-0.2)
(61236.275,0.1)(61236.375,0.3)(61236.475,-0.5)(61236.575,0.5)(61236.675,-0.1)(61236.775,0.65)(61236.875,-0.05)
(61236.975,0.25)(61237.075,0.05)(61237.175,-0.25)(61237.275,0.55)(61237.375,-0.45)(61237.475,-0.05)(61237.575,-0.75)(61237.675,0.15)(61237.775,0.35)(61237.875,-0.35)
(61237.975,-0.15)(61238.075,0.25)(61238.175,-0.55)(61238.275,0.05)(61238.375,-0.25)(61238.475,0.45)(61238.575,-0.45)(61238.675,-0.15)(61238.775,0.15)(61238.875,-0.65)
(61238.975,-0.05)(61239.075,0.65)(61239.175,-0.35)(61239.275,0.25)(61239.375,-0.75)(61239.475,0.05)(61239.575,-0.15)(61239.675,-0.45)(61239.775,0.35)(61239.875,-0.25)
(61239.975,-0.05)(61240.075,-0.25)(61240.175,0.45)(61240.275,0.75)(61240.375,-0.05)(61240.475,0.15)(61240.575,-0.35)
(61240.675,-0.05)(61240.775,0.65)(61240.875,0.45)(61240.975,-0.45)(61241.075,0.25)(61241.175,-0.15)(61241.275,0.85)(61241.375,0.05)(61241.475,0.35)(61241.575,0.55)
(61241.675,-0.35)(61241.775,0.15)(61241.875,-0.05)(61241.975,0.75)(61242.075,0.45)(61242.175,-0.25)(61242.275,0.25)(61242.375,0.05)(61242.475,0.65)(61242.575,-0.15)
(61242.675,0.15)(61242.775,0.35)(61242.875,-0.45)(61242.975,0.55)(61243.075,-0.05)(61243.175,0.95)(61243.275,0.25)(61243.375,-0.35)(61243.475,0.45)(61243.575,0.15)
(61243.675,-0.15)(61243.775,0.75)(61243.875,0.05)(61243.975,0.35)(61244.075,-0.25)(61244.175,0.55)(61244.275,0.15)
(61244.375,0.45)(61244.475,-0.35)(61244.575,0.0)(61244.675,0.7)(61244.775,-0.3)(61244.875,0.3)(61244.975,-0.7)(61245.075,0.1)(61245.175,-0.1)(61245.275,-0.4)
(61245.375,0.4)(61245.475,-0.2)(61245.575,0.0)(61245.675,-0.5)(61245.775,0.2)(61245.875,0.5)(61245.975,-0.3)(61246.075,-0.1)(61246.175,-0.6)(61246.275,0.3)
(61246.375,0.1)(61246.475,-0.2)(61246.575,0.6)(61246.675,-0.4)(61246.775,0.0)(61246.875,-0.7)(61246.975,0.2)(61247.075,0.4)(61247.175,-0.3)(61247.275,-0.1)
(61247.375,0.3)(61247.475,-0.5)(61247.575,0.1)(61247.675,-0.2)(61247.775,0.5)(61247.875,-0.4)(61247.975,-0.1)
(61248.075,-0.7)(61248.175,0.3)(61248.275,-0.3)(61248.375,0.7)(61248.475,0.0)(61248.575,-0.6)(61248.675,0.2)(61248.775,-0.1)(61248.875,-0.4)(61248.975,0.5)
(61249.075,-0.2)(61249.175,0.1)(61249.275,-0.5)(61249.375,0.3)(61249.475,-0.1)(61249.575,-0.3)(61249.675,0.4)(61249.775,0.2)(61249.875,-0.7)(61249.975,0.0)
(61250.075,-0.4)(61250.175,0.6)(61250.275,-0.2)(61250.375,0.1)(61250.475,0.3)(61250.575,-0.6)(61250.675,-0.1)(61250.775,-0.3)(61250.875,0.5)(61250.975,0.2)
};
\node[anchor=base west, inner sep=0pt, font=\bfseries\fontsize{12.8}{15}\selectfont] at (axis cs:61220.02,-4.72) {\resizebox{386.5pt}{\height}{Max Smoothing Residual: \_-4.085\_\_1.800\_-0.212\ \ Sigma= 0.918ns}};
\end{axis}
% ---------------- Allan deviation panel ----------------
\begin{axis}[base, at={(84.65pt,72pt)}, width=269.55pt, height=225pt,
  xmin=3, xmax=6, ymin=-16.5, ymax=-11.5,
  xtick={3,4,5,6}, xticklabels={3,4,5,6}, minor xtick={3.5,4.5,5.5},
  ytick={-16,-15,-14,-13,-12}, yticklabels={−16,−15,−14,−13,−12},
  minor ytick={-16.5,-15.5,-14.5,-13.5,-12.5,-11.5},
  xlabel={Averaging time, log($\tau$) (s)},
  ylabel={Modified Allan Deviation (10\textsuperscript{-15})},
  xlabel style={at={([yshift=-38.5pt,xshift=2pt]axis description cs:0.5,0)}, anchor=base},
  ylabel style={at={([xshift=-48.2pt]axis description cs:0,0.5)}, anchor=center},
  xticklabel style={yshift=2.4pt},
]
\addplot[only marks, mark=*, mark size=3pt, black] coordinates {
(3.012,-12.23)(3.313,-12.589)(3.614,-12.852)(3.915,-13.319)(4.216,-13.674)
(4.517,-14.115)(4.818,-14.526)(5.119,-14.678)(5.420,-14.777)(5.721,-15.114)};
\addplot[only marks, mark=*, mark size=2pt, black] coordinates {
(3.2553,-16.5)(3.5563,-16.5)(4.0334,-16.5)(4.3345,-16.5)(4.6355,-16.5)(4.9365,-16.5)(5.4137,-16.5)(5.7816,-16.5)};
\node[vlab] at (axis cs:3.075,-12.13) {1.9};
\node[vlab] at (axis cs:3.313,-12.489) {257.1};
\node[vlab] at (axis cs:3.614,-12.752) {140.3};
\node[vlab] at (axis cs:3.915,-13.219) {47.9};
\node[vlab] at (axis cs:4.216,-13.574) {21.1};
\node[vlab] at (axis cs:4.517,-14.015) {7.6};
\node[vlab] at (axis cs:4.818,-14.426) {3.0};
\node[vlab] at (axis cs:5.119,-14.578) {2.1};
\node[vlab] at (axis cs:5.420,-14.677) {1.7};
\node[vlab] at (axis cs:5.721,-15.014) {0.8};
\node[vlab] at (axis cs:3.2553,-16.40) {h/2};
\node[vlab] at (axis cs:3.5563,-16.40) {h};
\node[vlab] at (axis cs:4.0334,-16.40) {d/8};
\node[vlab] at (axis cs:4.3345,-16.40) {d/4};
\node[vlab] at (axis cs:4.6355,-16.40) {d/2};
\node[vlab] at (axis cs:4.9365,-16.40) {day};
\node[vlab] at (axis cs:5.4137,-16.40) {ddd};
\node[vlab] at (axis cs:5.7816,-16.40) {wk};
\node[font=\bfseries\fontsize{8.5}{10}\selectfont, inner sep=0pt] at (axis cs:3.46,-11.786) {$\tau$ = 1028s};
\end{axis}
% ---------------- time deviation panel ----------------
\begin{axis}[base, at={(426.65pt,72pt)}, width=270pt, height=225pt, clip=false,
  xmin=2.75, xmax=6, ymin=-10, ymax=-8.5,
  xtick={3,4,5,6}, xticklabels={3,4,5,6}, minor xtick={3.5,4.5,5.5},
  ytick={-10,-9}, yticklabels={−10,−9}, minor ytick={-9.5,-8.5},
  xlabel={Averaging time, log($\tau$) (s)},
  ylabel={Time deviation (10\textsuperscript{-10} s)},
  xlabel style={at={([yshift=-38.5pt,xshift=4pt]axis description cs:0.5,0)}, anchor=base},
  ylabel style={at={([xshift=-48.3pt]axis description cs:0,0.5)}, anchor=center},
  xticklabel style={yshift=2.4pt},
]
\addplot[only marks, mark=*, mark size=3pt, black] coordinates {
(3.009,-9.454)(3.310,-9.516)(3.615,-9.476)(3.913,-9.643)(4.214,-9.698)
(4.517,-9.839)(4.818,-9.944)(5.118,-9.799)(5.419,-9.593)(5.720,-9.634)};
\addplot[only marks, mark=*, mark size=3pt, black] coordinates {
(3.254,-9.989)(3.555,-9.989)(4.032,-9.989)(4.333,-9.989)(4.633,-9.989)(4.934,-9.989)(5.411,-9.989)(5.780,-9.989)};
\node[vlabs] at (axis cs:3.009,-9.353) {3.5};
\node[vlabs] at (axis cs:3.310,-9.415) {3.1};
\node[vlabs] at (axis cs:3.615,-9.375) {3.3};
\node[vlabs] at (axis cs:3.913,-9.542) {2.3};
\node[vlabs] at (axis cs:4.214,-9.597) {2.0};
\node[vlabs] at (axis cs:4.517,-9.738) {1.4};
\node[vlabs] at (axis cs:4.818,-9.847) {1.1};
\node[vlabs] at (axis cs:5.118,-9.698) {1.6};
\node[vlabs] at (axis cs:5.419,-9.492) {2.6};
\node[vlabs] at (axis cs:5.720,-9.533) {2.3};
\node[vlab] at (axis cs:3.254,-9.90) {h/2};
\node[vlab] at (axis cs:3.555,-9.90) {h};
\node[vlab] at (axis cs:4.032,-9.90) {d/8};
\node[vlab] at (axis cs:4.333,-9.90) {d/4};
\node[vlab] at (axis cs:4.633,-9.90) {d/2};
\node[vlab] at (axis cs:4.934,-9.90) {day};
\node[vlab] at (axis cs:5.411,-9.90) {ddd};
\node[vlab] at (axis cs:5.780,-9.90) {wk};
\end{axis}
\end{tikzpicture}
\end{document}
